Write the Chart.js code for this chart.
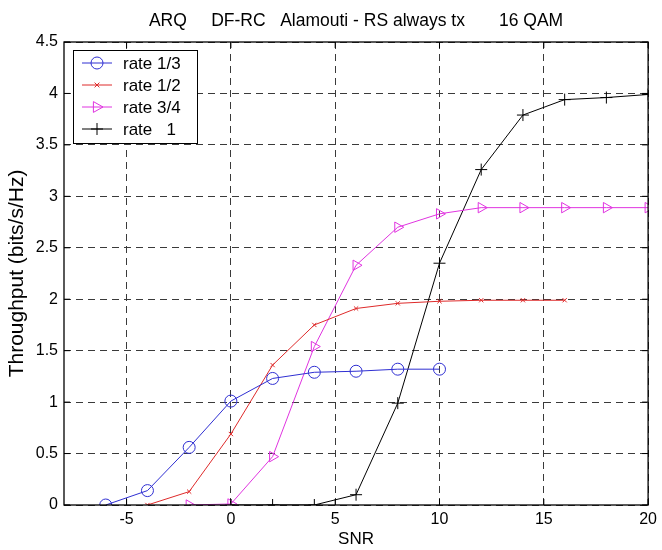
<!DOCTYPE html>
<html>
<head>
<meta charset="utf-8">
<script src="https://cdn.jsdelivr.net/npm/chart.js@4/dist/chart.umd.min.js"></script>
<style>
  html, body { margin: 0; padding: 0; background: #fff; }
  #wrap { width: 662px; height: 550px; }
</style>
</head>
<body>
<div id="wrap"><canvas id="c" width="662" height="550"></canvas></div>
<script>
// ---- data ----
const chartTitle = 'ARQ     DF-RC   Alamouti - RS always tx       16 QAM';
const xLabel = 'SNR';
const yLabel = 'Throughput (bits/s/Hz)';
const xTickValues = [-5, 0, 5, 10, 15, 20];
const seriesNames = ['rate 1/3', 'rate 1/2', 'rate 3/4', 'rate   1'];

const snrRate13 = [-6, -4, -2, 0, 2, 4, 6, 8, 10];
const thrRate13 = [0, 0.14, 0.56, 1.01, 1.23, 1.29, 1.30, 1.32, 1.32];

const snrRate12 = [-4, -2, 0, 2, 4, 6, 8, 10, 12, 14, 16];
const thrRate12 = [0, 0.13, 0.69, 1.36, 1.75, 1.91, 1.96, 1.98, 1.99, 1.99, 1.99];

const snrRate34 = [-2, 0, 2, 4, 6, 8, 10, 12, 14, 16, 18, 20];
const thrRate34 = [0, 0.01, 0.47, 1.54, 2.33, 2.70, 2.83, 2.89, 2.89, 2.89, 2.89, 2.89];

const snrRate1 = [0, 2, 4, 6, 8, 10, 12, 14, 16, 18, 20];
const thrRate1 = [0, 0, 0, 0.10, 0.99, 2.35, 3.26, 3.79, 3.94, 3.96, 3.99];

// ---- styles ----
const FONT = "'Liberation Sans', Arial, sans-serif";
const colors = ['#2f2fd2', '#de2a2a', '#e034e0', '#000000'];
const markers = ['circle', 'crossRot', 'triangle', 'cross'];
const markerRadius = [6, 3, 6, 6];
const markerRotation = [0, 0, 90, 0];

function pts(xs, ys) { return xs.map((x, i) => ({ x: x, y: ys[i] })); }
const seriesData = [
  pts(snrRate13, thrRate13),
  pts(snrRate12, thrRate12),
  pts(snrRate34, thrRate34),
  pts(snrRate1, thrRate1)
];

const datasets = seriesData.map((d, i) => ({
  label: seriesNames[i],
  data: d,
  borderColor: colors[i],
  borderWidth: 1,
  backgroundColor: 'rgba(0,0,0,0)',
  pointStyle: markers[i],
  pointRadius: markerRadius[i],
  pointHoverRadius: markerRadius[i],
  pointRotation: markerRotation[i],
  pointBorderColor: colors[i],
  pointBackgroundColor: 'rgba(0,0,0,0)',
  pointBorderWidth: 1,
  tension: 0,
  fill: false
}));

function drawMarker(ctx, style, x, y, r, color) {
  ctx.save();
  ctx.strokeStyle = color;
  ctx.lineWidth = 1;
  ctx.beginPath();
  if (style === 'circle') {
    ctx.arc(x, y, r, 0, Math.PI * 2);
  } else if (style === 'crossRot') {
    ctx.moveTo(x - r * 0.8, y - r * 0.8); ctx.lineTo(x + r * 0.8, y + r * 0.8);
    ctx.moveTo(x - r * 0.8, y + r * 0.8); ctx.lineTo(x + r * 0.8, y - r * 0.8);
  } else if (style === 'triangle') {
    ctx.moveTo(x + r, y);
    ctx.lineTo(x - r * 0.6, y - r * 0.9);
    ctx.lineTo(x - r * 0.6, y + r * 0.9);
    ctx.closePath();
  } else if (style === 'cross') {
    ctx.moveTo(x - r, y); ctx.lineTo(x + r, y);
    ctx.moveTo(x, y - r); ctx.lineTo(x, y + r);
  }
  ctx.stroke();
  ctx.restore();
}

// frame + inward tick marks (MATLAB style)
const framePlugin = {
  id: 'frame',
  afterDatasetsDraw(chart) {
    const { ctx, chartArea: a, scales } = chart;
    ctx.save();
    ctx.strokeStyle = '#000';
    ctx.lineWidth = 1.3;
    ctx.setLineDash([]);
    ctx.strokeRect(a.left, a.top, a.right - a.left, a.bottom - a.top);
    ctx.lineWidth = 1;
    ctx.beginPath();
    scales.x.ticks.forEach(t => {
      const px = scales.x.getPixelForValue(t.value);
      ctx.moveTo(px, a.bottom); ctx.lineTo(px, a.bottom - 6);
      ctx.moveTo(px, a.top); ctx.lineTo(px, a.top + 6);
    });
    scales.y.ticks.forEach(t => {
      const py = scales.y.getPixelForValue(t.value);
      ctx.moveTo(a.left, py); ctx.lineTo(a.left + 6, py);
      ctx.moveTo(a.right, py); ctx.lineTo(a.right - 6, py);
    });
    ctx.stroke();
    ctx.restore();
  }
};

// MATLAB-like legend box with line + marker samples
const legendPlugin = {
  id: 'matlabLegend',
  afterDraw(chart) {
    const { ctx, chartArea: a } = chart;
    const bx = a.left + 9, by = a.top + 8, bw = 124, bh = 93;
    ctx.save();
    ctx.fillStyle = '#fff';
    ctx.fillRect(bx, by, bw, bh);
    ctx.strokeStyle = '#000';
    ctx.lineWidth = 1;
    ctx.setLineDash([]);
    ctx.strokeRect(bx + 0.5, by + 0.5, bw, bh);
    ctx.font = '17px ' + FONT;
    ctx.textBaseline = 'middle';
    ctx.fillStyle = '#000';
    chart.data.datasets.forEach((ds, i) => {
      const y = by + 13 + i * 22;
      ctx.strokeStyle = ds.borderColor;
      ctx.beginPath();
      ctx.moveTo(bx + 9, y); ctx.lineTo(bx + 39, y);
      ctx.stroke();
      drawMarker(ctx, ds.pointStyle, bx + 24, y, ds.pointRadius, ds.borderColor);
      ctx.fillStyle = '#000';
      ctx.fillText(ds.label, bx + 50, y + 1);
    });
    ctx.restore();
  }
};

new Chart(document.getElementById('c'), {
  type: 'line',
  data: { datasets: datasets },
  options: {
    responsive: false,
    animation: false,
    layout: { padding: { left: 0, right: 10, top: 0, bottom: 0 } },
    plugins: {
      legend: { display: false },
      tooltip: { enabled: false },
      title: {
        display: true,
        fullSize: false,
        text: chartTitle,
        color: '#000',
        font: { family: FONT, size: 17.5, weight: 'normal' },
        padding: { top: 10.5, bottom: 10.5 }
      }
    },
    scales: {
      x: {
        type: 'linear',
        min: -8,
        max: 20,
        afterBuildTicks(scale) { scale.ticks = xTickValues.map(v => ({ value: v })); },
        afterFit(scale) { scale.height = 45; },
        ticks: {
          color: '#000',
          font: { family: FONT, size: 16 },
          padding: 5,
          maxRotation: 0,
          autoSkip: false
        },
        grid: { color: '#3a3a3a', lineWidth: 1, drawTicks: false },
        border: { display: false, dash: [7, 5] },
        title: {
          display: true,
          text: xLabel,
          color: '#000',
          font: { family: FONT, size: 17 },
          padding: { top: 0, bottom: 0 }
        }
      },
      y: {
        type: 'linear',
        min: 0,
        max: 4.5,
        afterFit(scale) { scale.width = 64; },
        ticks: {
          stepSize: 0.5,
          color: '#000',
          font: { family: FONT, size: 16 },
          padding: 6,
          callback: v => String(v)
        },
        grid: { color: '#3a3a3a', lineWidth: 1, drawTicks: false },
        border: { display: false, dash: [7, 5] },
        title: {
          display: true,
          text: yLabel,
          color: '#000',
          font: { family: FONT, size: 21 },
          padding: { top: 5, bottom: 0 }
        }
      }
    }
  },
  plugins: [framePlugin, legendPlugin]
});
</script>
</body>
</html>
